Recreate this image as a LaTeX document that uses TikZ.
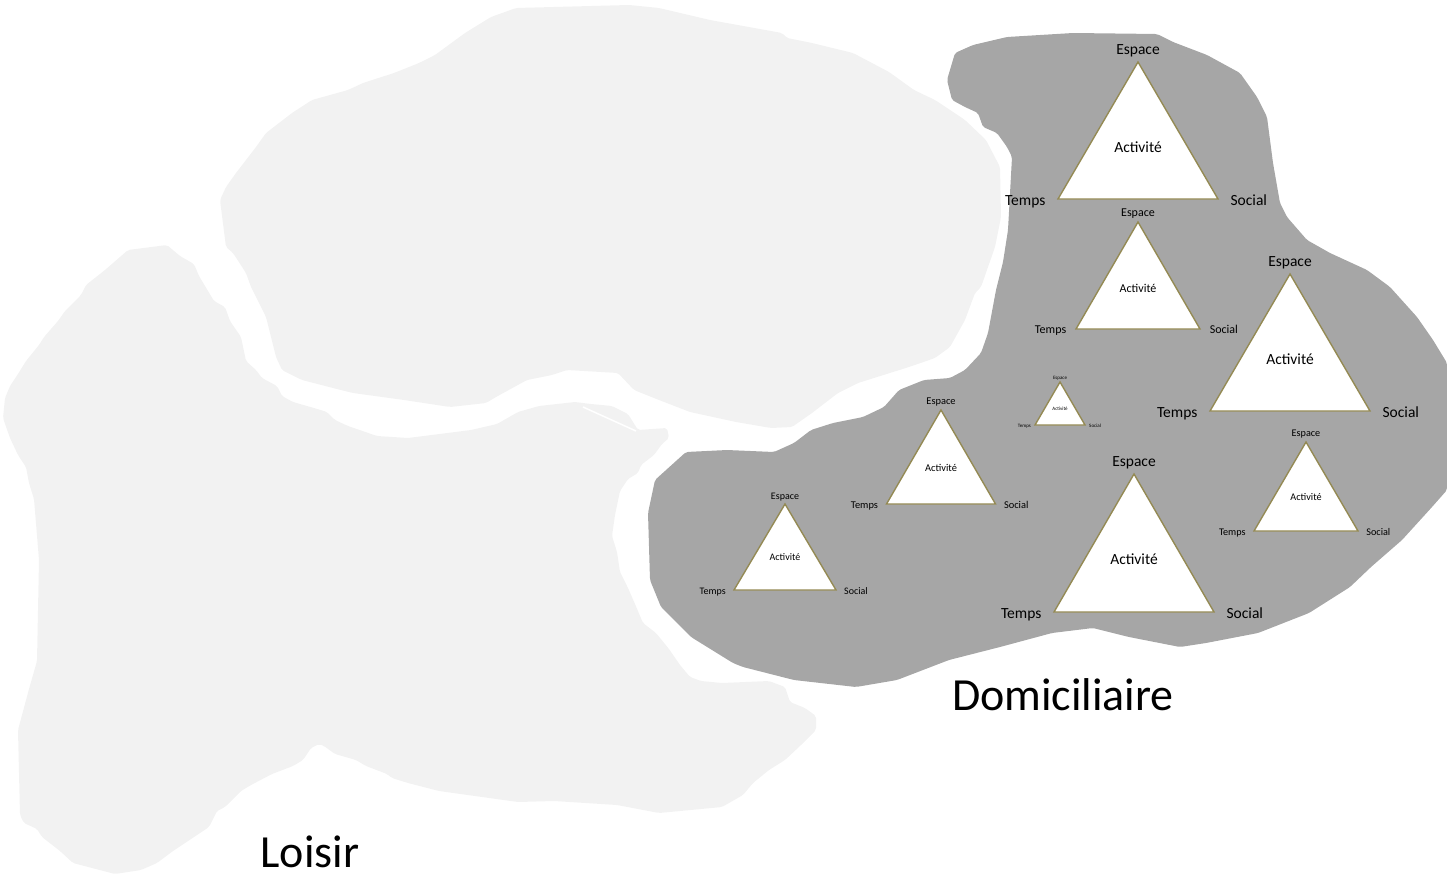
\documentclass[tikz,border=0pt]{standalone}
\usepackage{fontspec}
\setmainfont{Carlito}
\usetikzlibrary{calc}
\definecolor{darkzone}{HTML}{A6A6A6}
\definecolor{lightzone}{HTML}{F2F2F2}
\definecolor{triline}{HTML}{948A54}
\tikzset{
  zonedark/.style={fill=darkzone, draw=none, rounded corners=2pt},
  zonelight/.style={fill=lightzone, draw=none, rounded corners=2pt},
  tribox/.style={fill=white, draw=triline, line width=1.4pt, line join=miter},
  lbl/.style={inner sep=0pt, text=black},
  bigname/.style={inner sep=0pt, font=\fontsize{46pt}{46pt}\selectfont, anchor=base}
}
% #1 name, #2 apex x, #3 apex y, #4 half width, #5 base y, #6 font size
\newcommand\mytri[6]{%
  \coordinate (#1a) at (#2,#3);
  \coordinate (#1l) at (#2-#4,#5);
  \coordinate (#1r) at (#2+#4,#5);
  \draw[tribox] (#1a) -- (#1l) -- (#1r) -- cycle;
  \node[lbl, font=\fontsize{#6pt}{#6pt}\selectfont, anchor=base] (#1e) at ($(#1a)+(0,-0.5*#6)$) {Espace};
  \node[lbl, font=\fontsize{#6pt}{#6pt}\selectfont, anchor=base east] (#1t) at ($(#1l)+(-0.8*#6,0.4*#6)$) {Temps};
  \node[lbl, font=\fontsize{#6pt}{#6pt}\selectfont, anchor=base west] (#1s) at ($(#1r)+(0.8*#6,0.4*#6)$) {Social};
  \node[lbl, font=\fontsize{#6pt}{#6pt}\selectfont] (#1c) at ($(#1a)!0.62!($(#1l)!0.5!(#1r)$)$) {Activité};
}
\begin{document}
\begin{tikzpicture}[x=1pt,y=-1pt]
\useasboundingbox (0,0) rectangle (1447,875);

% top light zone
\fill[zonelight] (220,200) -- (226,187) -- (236,173) -- (256,147) -- (266,133) -- (292,113) -- (312,100) -- (348,90) -- (363,83) -- (394,73) -- (419,63) -- (435,55) -- (465,33) -- (491,17) -- (516,8) -- (629,5) -- (659,8) -- (710,20) -- (782,33) -- (787,38) -- (812,43) -- (853,53) -- (889,72) -- (914,90) -- (935,100) -- (965,120) -- (986,140) -- (1000,167) -- (1001,217) -- (995,247) -- (981,287) -- (975,293) -- (965,320) -- (950,347) -- (935,358) -- (909,367) -- (858,383) -- (838,393) -- (812,413) -- (792,427) -- (771,428) -- (736,422) -- (690,412) -- (659,400) -- (634,390) -- (618,373) -- (567,370) -- (552,375) -- (527,380) -- (496,397) -- (486,403) -- (450,407) -- (404,400) -- (353,393) -- (333,388) -- (302,380) -- (282,370) -- (276,357) -- (266,317) -- (251,287) -- (246,273) -- (233,253) -- (226,247) -- cycle;

% left light zone (Loisir)
\fill[zonelight] (128,250) -- (167,245) -- (180,256) -- (194,264) -- (199,276) -- (214,301) -- (225,307) -- (230,321) -- (241,337) -- (246,361) -- (256,370) -- (262,378) -- (277,386) -- (282,396) -- (293,402) -- (314,408) -- (327,412) -- (335,420) -- (348,426) -- (377,436) -- (408,438) -- (471,430) -- (497,424) -- (518,412) -- (539,406) -- (575,402) -- (591,404) -- (612,406) -- (628,414) -- (638,430) -- (667,428) -- (669,438) -- (662,444) -- (654,455) -- (641,465) -- (638,473) -- (628,479) -- (620,491) -- (615,515) -- (612,536) -- (617,552) -- (620,572) -- (628,588) -- (635,604) -- (643,623) -- (656,633) -- (669,649) -- (680,665) -- (690,677) -- (701,681) -- (722,683) -- (769,681) -- (785,687) -- (790,702) -- (805,708) -- (816,716) -- (816,730) -- (800,746) -- (785,760) -- (769,770) -- (753,783) -- (743,795) -- (722,807) -- (659,813) -- (617,805) -- (554,801) -- (518,802) -- (439,791) -- (408,783) -- (392,778) -- (387,774) -- (366,766) -- (356,760) -- (335,754) -- (324,746) -- (319,744) -- (311,748) -- (303,760) -- (293,766) -- (272,774) -- (251,785) -- (241,791) -- (225,807) -- (217,811) -- (209,827) -- (173,851) -- (157,863) -- (141,870) -- (115,874) -- (73,863) -- (60,851) -- (42,837) -- (37,829) -- (24,823) -- (20,815) -- (18,730) -- (29,689) -- (37,661) -- (39,560) -- (34,499) -- (29,483) -- (26,467) -- (18,455) -- (10,438) -- (3,418) -- (5,398) -- (10,386) -- (18,374) -- (26,361) -- (39,345) -- (44,337) -- (58,321) -- (65,311) -- (81,295) -- (86,285) -- (105,270) -- cycle;
\draw[white, line width=1.5pt] (583,407) -- (636,431);

% dark zone (Domiciliaire)
\fill[zonedark] (947,80) -- (955,53) -- (973,45) -- (1007,37) -- (1073,33) -- (1157,34) -- (1173,42) -- (1207,55) -- (1240,73) -- (1257,97) -- (1267,117) -- (1273,163) -- (1280,203) -- (1287,217) -- (1307,240) -- (1330,253) -- (1367,270) -- (1390,287) -- (1417,317) -- (1433,340) -- (1447,363) -- (1447,490) -- (1432,507) -- (1402,540) -- (1371,567) -- (1350,587) -- (1309,613) -- (1258,633) -- (1206,643) -- (1180,647) -- (1129,637) -- (1093,628) -- (1052,633) -- (1000,647) -- (949,660) -- (897,680) -- (856,687) -- (794,680) -- (743,667) -- (733,663) -- (691,637) -- (661,607) -- (650,580) -- (648,513) -- (655,480) -- (686,452) -- (727,450) -- (774,452) -- (794,443) -- (811,430) -- (833,423) -- (863,417) -- (884,407) -- (899,390) -- (924,380) -- (950,378) -- (965,370) -- (981,353) -- (988,333) -- (996,290) -- (1003,262) -- (1008,230) -- (1012,157) -- (1007,147) -- (997,133) -- (983,127) -- (978,113) -- (965,107) -- (952,100) -- cycle;

% triangles
\mytri{A}{1138}{62}{80}{199}{15.5}
\mytri{B}{1138}{222}{62}{329}{12}
\mytri{C}{1290}{274}{80}{411}{15.5}
\mytri{D}{1060}{382}{25}{425}{5}
\mytri{E}{941}{410}{54.5}{504}{10.4}
\mytri{F}{785}{504}{51}{590}{10}
\mytri{G}{1134}{474}{80}{612}{15.5}
\mytri{H}{1306}{442}{52}{531}{10.2}

% zone names
\node[bigname] (dom) at (1063,710) {Domiciliaire};
\node[bigname] (loi) at (310,867) {Loisir};
\end{tikzpicture}
\end{document}
